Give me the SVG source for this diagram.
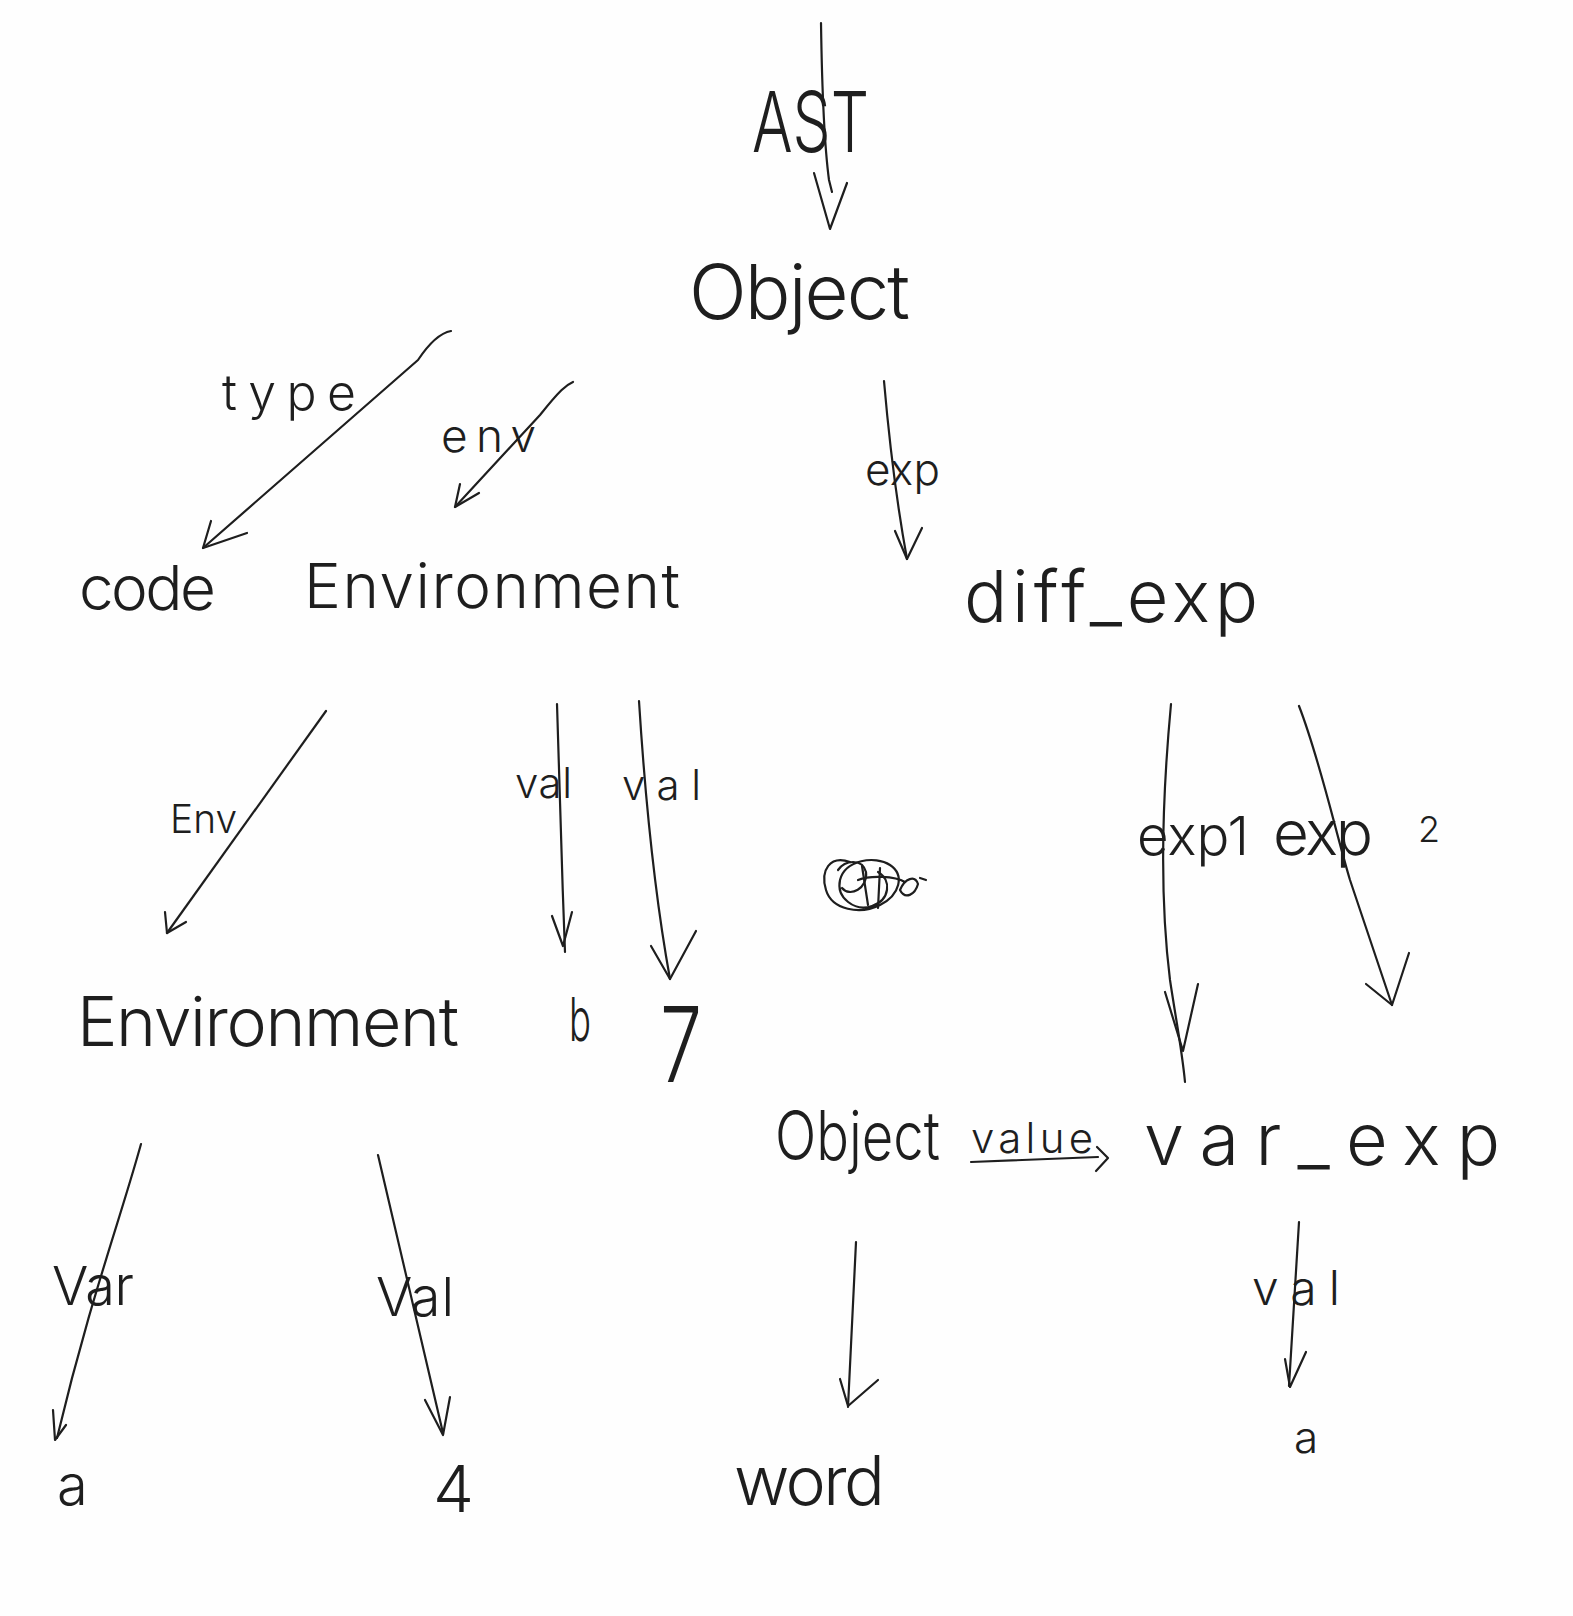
<svg xmlns="http://www.w3.org/2000/svg" width="1573" height="1616" viewBox="0 0 1573 1616">
<style>
  .t { font-family: "Inter", "Lato", "Liberation Sans", sans-serif; font-weight: 300; fill: #1e1e1e; }
  .ln { fill: none; stroke: #1e1e1e; stroke-width: 2.2; stroke-linecap: round; stroke-linejoin: round; }
  .hd { fill: none; stroke: #1e1e1e; stroke-width: 2.2; stroke-linecap: round; stroke-linejoin: round; }
</style>
<rect width="1573" height="1616" fill="#fefefe"/>

<!-- connectors -->
<g id="connectors">
  <g id="e-ast-object">
    <path class="ln" d="M821,23 C822,90 825,150 829,180 L832,192"/>
    <polyline class="hd" points="814,173 830,229 847,183"/>
  </g>
  <g id="e-type">
    <path class="ln" d="M451,331 C440,333 430,342 418,360 L203,548"/>
    <polyline class="hd" points="211,521 203,548 247,533"/>
    <text class="t" x="222" y="410" font-size="50" textLength="134" lengthAdjust="spacing">type</text>
  </g>
  <g id="e-env">
    <path class="ln" d="M573,382 C566,385 560,390 540,415 L455,507"/>
    <polyline class="hd" points="460,484 455,507 479,493"/>
    <text class="t" x="441" y="452" font-size="46" textLength="95" lengthAdjust="spacing">env</text>
  </g>
  <g id="e-exp">
    <path class="ln" d="M884,381 C890,450 898,510 907,559"/>
    <polyline class="hd" points="895,531 907,559 922,528"/>
    <text class="t" x="865" y="485" font-size="44" textLength="75" lengthAdjust="spacing">exp</text>
  </g>
  <g id="e-Env">
    <path class="ln" d="M326,711 L167,933"/>
    <polyline class="hd" points="165,912 167,933 186,922"/>
    <text class="t" x="170" y="833" font-size="40" textLength="67" lengthAdjust="spacingAndGlyphs">Env</text>
  </g>
  <g id="e-val-b">
    <path class="ln" d="M557,704 C559,790 562,870 565,952"/>
    <polyline class="hd" points="552,916 563,946 572,912"/>
    <text class="t" x="515" y="798" font-size="42" textLength="57" lengthAdjust="spacing">val</text>
  </g>
  <g id="e-val-7">
    <path class="ln" d="M639,701 C644,780 652,880 670,979"/>
    <polyline class="hd" points="651,946 670,979 696,931"/>
    <text class="t" x="622" y="800" font-size="42" textLength="79" lengthAdjust="spacing">val</text>
  </g>
  <g id="e-exp1">
    <path class="ln" d="M1171,704 C1162,800 1160,900 1170,980 C1176,1020 1182,1050 1185,1082"/>
    <polyline class="hd" points="1165,992 1183,1051 1198,984"/>
    <text class="t" x="1137" y="855" font-size="54" textLength="112" lengthAdjust="spacingAndGlyphs">exp1</text>
  </g>
  <g id="e-exp2">
    <path class="ln" d="M1299,706 C1320,760 1335,830 1350,880 L1392,1005"/>
    <polyline class="hd" points="1366,984 1392,1005 1409,953"/>
    <text class="t" x="1273" y="855" font-size="62" textLength="100" lengthAdjust="spacing">exp</text>
    <text class="t" x="1418" y="842" font-size="36">2</text>
  </g>
  <g id="e-value">
    <text class="t" x="971" y="1153" font-size="42" textLength="122" lengthAdjust="spacing">value</text>
    <path class="ln" d="M971,1162 L1098,1157"/>
    <polyline class="hd" points="1097,1147 1108,1158 1096,1171"/>
  </g>
  <g id="e-Var">
    <path class="ln" d="M141,1144 C120,1220 90,1300 57,1438"/>
    <polyline class="hd" points="53,1410 55,1440 66,1425"/>
    <text class="t" x="52" y="1305" font-size="54" textLength="82" lengthAdjust="spacing">Var</text>
  </g>
  <g id="e-Val">
    <path class="ln" d="M378,1155 L443,1433"/>
    <polyline class="hd" points="425,1400 443,1435 450,1397"/>
    <text class="t" x="376" y="1316" font-size="54" textLength="78" lengthAdjust="spacing">Val</text>
  </g>
  <g id="e-word">
    <path class="ln" d="M856,1242 L848,1407"/>
    <polyline class="hd" points="840,1379 848,1406 878,1380"/>
  </g>
  <g id="e-val-a">
    <path class="ln" d="M1299,1222 L1289,1386"/>
    <polyline class="hd" points="1285,1359 1290,1387 1306,1352"/>
    <text class="t" x="1252" y="1305" font-size="48" textLength="88" lengthAdjust="spacing">val</text>
  </g>
</g>

<!-- nodes -->
<g id="n-ast"><text class="t" x="752" y="152" font-size="84" textLength="117" lengthAdjust="spacingAndGlyphs">AST</text></g>
<g id="n-object"><text class="t" x="689" y="319" font-size="76" textLength="221" lengthAdjust="spacing">Object</text></g>
<g id="n-code"><text class="t" x="79" y="610" font-size="62" textLength="137" lengthAdjust="spacing">code</text></g>
<g id="n-environment"><text class="t" x="304" y="608" font-size="62" textLength="376" lengthAdjust="spacing">Environment</text></g>
<g id="n-diffexp"><text class="t" x="964" y="622" font-size="72" textLength="294" lengthAdjust="spacing">diff_exp</text></g>
<g id="n-environment2"><text class="t" x="77" y="1046" font-size="68" textLength="382" lengthAdjust="spacing">Environment</text></g>
<g id="n-b"><text class="t" x="569" y="1041" font-size="60" textLength="22" lengthAdjust="spacingAndGlyphs">b</text></g>
<g id="n-7"><text class="t" x="660" y="1082" font-size="104" textLength="42" lengthAdjust="spacingAndGlyphs">7</text></g>
<g id="n-object2"><text class="t" x="775" y="1160" font-size="68" textLength="165" lengthAdjust="spacingAndGlyphs">Object</text></g>
<g id="n-varexp"><text class="t" x="1144" y="1165" font-size="72" textLength="356" lengthAdjust="spacing">var_exp</text></g>
<g id="n-a1"><text class="t" x="57" y="1505" font-size="56">a</text></g>
<g id="n-4"><text class="t" x="433" y="1512" font-size="64" textLength="41" lengthAdjust="spacingAndGlyphs">4</text></g>
<g id="n-word"><text class="t" x="734" y="1505" font-size="68" textLength="151" lengthAdjust="spacing">word</text></g>
<g id="n-a2"><text class="t" x="1294" y="1453" font-size="44">a</text></g>

<!-- crossed-out scribble -->
<g id="scribble">
  <path class="ln" stroke-width="2" d="M850,862 C830,855 820,870 826,890 C832,910 860,915 880,905 C900,895 905,875 890,865 C875,855 845,860 840,880 C836,898 855,912 872,906 C890,900 892,880 878,872"/>
  <path class="ln" stroke-width="2" d="M838,870 C845,860 862,858 866,872 C868,888 850,898 842,888"/>
  <path class="ln" stroke-width="2" d="M858,880 C870,875 895,876 905,882 M862,866 L868,905 M880,868 L878,908 M900,890 C905,878 915,875 918,884 C915,895 905,900 900,890 M920,878 L926,880"/>
</g>
</svg>
